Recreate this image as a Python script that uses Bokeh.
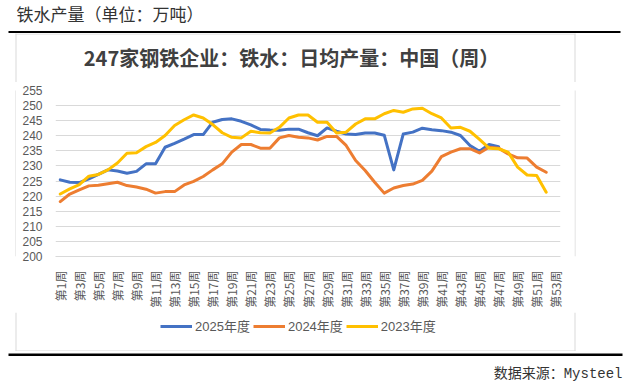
from math import pi
from bokeh.plotting import figure
from bokeh.layouts import column, row
from bokeh.models import (FixedTicker, Label, BoxAnnotation, Legend, LegendItem, Range1d)
from bokeh.embed import file_html
from bokeh.resources import INLINE

weeks = list(range(1, 54))
y2025 = [225.4, 224.6, 224.5, 225.7, 227.2, 228.7, 228.3, 227.6, 228.2, 230.7,
         230.7, 236.2, 237.5, 238.9, 240.4, 240.4, 244.5, 245.4, 245.6, 244.8,
         243.6, 242.1, 241.9, 241.8, 242.2, 242.2, 241.0, 240.0, 242.6, 241.5,
         240.6, 240.4, 240.9, 240.9, 240.2, 228.7, 240.6, 241.2, 242.5, 242.0,
         241.7, 241.2, 240.1, 236.8, 234.9, 237.1, 236.4]
y2024 = [218.2, 220.7, 222.1, 223.4, 223.6, 224.1, 224.6, 223.5, 223.0, 222.3,
         221.0, 221.5, 221.5, 223.7, 224.9, 226.5, 228.7, 230.7, 234.6, 237.1,
         237.1, 235.9, 235.9, 239.3, 240.1, 239.5, 239.3, 238.6, 239.8, 239.8,
         236.8, 231.8, 228.5, 224.6, 221.0, 222.7, 223.5, 224.0, 225.2, 228.3,
         233.1, 234.6, 235.7, 235.7, 234.3, 236.2, 235.9, 234.0, 232.7, 232.6,
         229.6, 227.9]
y2023 = [220.7, 222.4, 223.8, 226.6, 227.2, 228.7, 231.0, 234.2, 234.4, 236.4,
         237.8, 240.1, 243.4, 245.3, 246.9, 245.9, 243.7, 241.0, 239.5, 239.3,
         241.5, 241.0, 240.9, 242.8, 245.9, 246.9, 246.9, 244.5, 244.5, 240.9,
         241.2, 243.9, 245.6, 245.6, 247.3, 248.4, 247.8, 248.9, 249.1, 247.3,
         245.9, 242.6, 242.8, 241.5, 238.8, 235.9, 235.7, 234.6, 229.6, 227.0,
         226.8, 221.3]
series_names = ["2025年度", "2024年度", "2023年度"]
series_colors = ["#4472C4", "#ED7D31", "#FFC000"]
tick_weeks = list(range(1, 54, 2))
tick_labels = ["第%d周" % w for w in tick_weeks]
y_ticks = list(range(200, 256, 5))

header_text = "铁水产量（单位：万吨）"
title_text = "247家钢铁企业：铁水：日均产量：中国（周）"
source_text = "数据来源：Mysteel"

TOTAL_W = 630
BOX_L, BOX_R = 15, 575          # grey chart box, page x
GREY = "#d9d9d9"
NAN = float("nan")


def blank_fig(w, h):
    f = figure(width=w, height=h, output_backend="svg", toolbar_location=None,
               x_range=Range1d(0, w), y_range=Range1d(0, h),
               x_axis_location=None, y_axis_location=None, min_border=0)
    f.grid.visible = False
    f.outline_line_color = None
    f.background_fill_color = "white"
    f.border_fill_color = "white"
    return f


def sbox(f, left, right, bottom, top, color):
    f.add_layout(BoxAnnotation(left=left, right=right, bottom=bottom, top=top,
                               left_units="screen", right_units="screen",
                               top_units="screen", bottom_units="screen",
                               fill_color=color, fill_alpha=1, line_color=None))


def box_sides(f, h):
    sbox(f, BOX_L, BOX_L + 1, 0, h, GREY)
    sbox(f, BOX_R - 1, BOX_R, 0, h, GREY)


# ---- top strip (page y 0..33): header text + black rule
top = blank_fig(TOTAL_W, 33)
top.add_layout(Label(x=16, y=20, x_units="screen", y_units="screen", text=header_text,
                     text_font="Noto Sans CJK SC", text_font_size="17px",
                     text_color="#333333", text_baseline="middle"))
sbox(top, 8, 620, 0, 2.5, "black")

# ---- title strip (page y 33..82)
tstrip = blank_fig(TOTAL_W, 49)
box_sides(tstrip, 49)
sbox(tstrip, BOX_L, BOX_R, 48, 49, GREY)
tstrip.add_layout(Label(x=291, y=25, x_units="screen", y_units="screen", text=title_text,
                        text_font="Noto Sans CJK SC", text_font_size="20px",
                        text_font_style="bold", text_color="#404040",
                        text_baseline="middle", text_align="center"))

# ---- chart row (page y 82..312)
CH_H = 230
left_edge = blank_fig(16, CH_H)
sbox(left_edge, BOX_L, BOX_L + 1, 0, CH_H, GREY)
right_edge = blank_fig(TOTAL_W - 574, CH_H)
sbox(right_edge, 0, 1, 0, CH_H, GREY)

p = figure(width=558, height=CH_H, output_backend="svg", toolbar_location=None,
           x_range=Range1d(0.5, 53.5), y_range=Range1d(200, 255),
           min_border_left=39, min_border_right=14, min_border_top=8,
           min_border_bottom=56)
p.outline_line_color = None
p.background_fill_color = "white"
p.border_fill_color = "white"

xa = p.xaxis[0]
xa.ticker = FixedTicker(ticks=tick_weeks)
xa.major_label_overrides = {w: l for w, l in zip(tick_weeks, tick_labels)}
xa.major_label_orientation = pi / 2
xa.major_tick_line_color = None
xa.minor_tick_line_color = None
xa.axis_line_color = GREY
xa.major_label_text_font_size = "12px"
xa.major_label_text_font = "Noto Sans CJK SC"
xa.major_label_text_color = "#595959"
xa.major_label_standoff = 8

ya = p.yaxis[0]
ya.ticker = FixedTicker(ticks=y_ticks)
ya.axis_line_color = None
ya.major_tick_line_color = None
ya.minor_tick_line_color = None
ya.major_label_text_font_size = "12px"
ya.major_label_text_font = "Liberation Sans"
ya.major_label_text_color = "#595959"
ya.major_label_standoff = 7

p.xgrid.visible = False
p.ygrid.ticker = FixedTicker(ticks=y_ticks)
p.ygrid.grid_line_color = GREY
p.ygrid.grid_line_width = 1

for xs, ys, c in [(weeks[:len(y2025)], y2025, series_colors[0]),
                  (weeks[:len(y2024)], y2024, series_colors[1]),
                  (weeks[:len(y2023)], y2023, series_colors[2])]:
    p.line(xs, ys, line_color=c, line_width=3, line_join="round", line_cap="round")

# ---- legend strip (page y 312..351)
LG_H = 39
lstrip = blank_fig(TOTAL_W, LG_H)
box_sides(lstrip, LG_H)
sbox(lstrip, BOX_L, BOX_R, 0, 1, GREY)
keys = [lstrip.line([NAN], [NAN], line_color=c, line_width=3) for c in series_colors]
legend = Legend(items=[LegendItem(label=n, renderers=[r]) for n, r in zip(series_names, keys)],
                orientation="horizontal", location=(160, 16),
                glyph_width=32, glyph_height=14, label_standoff=3, spacing=3,
                padding=0, margin=0, border_line_color=None, background_fill_alpha=0,
                label_text_font_size="13px", label_text_color="#595959",
                label_text_font="Liberation Sans, Noto Sans CJK SC")
lstrip.add_layout(legend)

# ---- bottom strip (page y 351..389): black rule + source
bottom = blank_fig(TOTAL_W, 38)
sbox(bottom, 8, 622, 33.5, 36, "black")
bottom.add_layout(Label(x=622, y=16, x_units="screen", y_units="screen", text=source_text,
                        text_font="Liberation Mono, Noto Sans CJK SC", text_font_size="14px",
                        text_color="#333333", text_baseline="middle", text_align="right"))

mid = row(left_edge, p, right_edge)
layout = column(top, tstrip, mid, lstrip, bottom)

open("out.html", "w").write(file_html(layout, INLINE))
